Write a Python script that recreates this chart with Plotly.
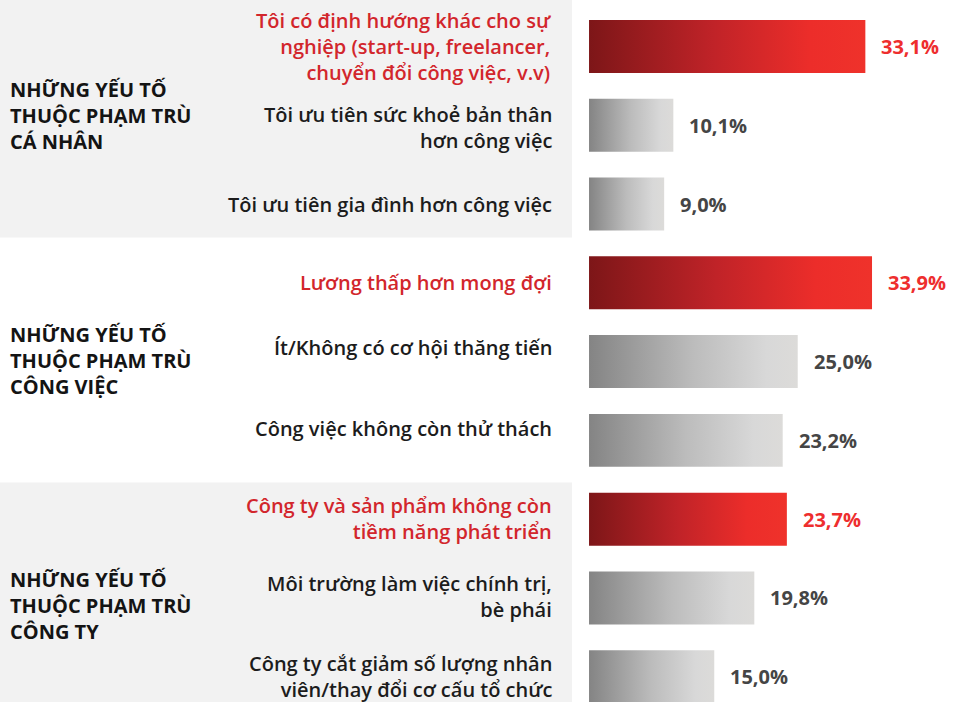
import plotly.graph_objects as go

# ---------------- data ----------------
categories = [
    "Tôi có định hướng khác cho sự<br>nghiệp (start-up, freelancer,<br>chuyển đổi công việc, v.v)",
    "Tôi ưu tiên sức khoẻ bản thân<br>hơn công việc",
    "Tôi ưu tiên gia đình hơn công việc",
    "Lương thấp hơn mong đợi",
    "Ít/Không có cơ hội thăng tiến",
    "Công việc không còn thử thách",
    "Công ty và sản phẩm không còn<br>tiềm năng phát triển",
    "Môi trường làm việc chính trị,<br>bè phái",
    "Công ty cắt giảm số lượng nhân<br>viên/thay đổi cơ cấu tổ chức",
]
values = [33.1, 10.1, 9.0, 33.9, 25.0, 23.2, 23.7, 19.8, 15.0]
highlight = [True, False, False, True, False, False, True, False, False]
groups = [
    "NHỮNG YẾU TỐ<br>THUỘC PHẠM TRÙ<br>CÁ NHÂN",
    "NHỮNG YẾU TỐ<br>THUỘC PHẠM TRÙ<br>CÔNG VIỆC",
    "NHỮNG YẾU TỐ<br>THUỘC PHẠM TRÙ<br>CÔNG TY",
]
group_rows = [1, 4, 7]

# ---------------- style ----------------
FONT = "Open Sans"
RED_SCALE = [[0, "#7d1618"], [0.45, "#c02328"], [0.8, "#ec2d2a"], [1, "#ef322b"]]
GRAY_SCALE = [[0, "#848484"], [0.5, "#bcbcbc"], [0.85, "#d8d8d8"], [1, "#dcdbd9"]]
HALF = 0.336
label_yshift = [0, -2, 0, 0, 14, 12, 1, 1, 0]
group_yshift = [10, 1, -8]

fig = go.Figure()

for i, (v, hl) in enumerate(zip(values, highlight)):
    fig.add_trace(go.Scatter(
        x=[0, v, v, 0, 0],
        y=[i - HALF, i - HALF, i + HALF, i + HALF, i - HALF],
        fill="toself",
        mode="lines",
        line=dict(width=0),
        fillgradient=dict(type="horizontal",
                          colorscale=RED_SCALE if hl else GRAY_SCALE,
                          start=0, stop=v),
        hoverinfo="skip",
        showlegend=False,
    ))

annotations = []
for i, (c, v, hl) in enumerate(zip(categories, values, highlight)):
    annotations.append(dict(
        x=0.5805, xref="paper", y=i, yref="y", xanchor="right", yanchor="middle",
        text=c, align="right", showarrow=False, yshift=label_yshift[i],
        font=dict(family=FONT, size=20, weight=600,
                  color="#d2262c" if hl else "#1c1c1c"),
    ))
    annotations.append(dict(
        x=v, xref="x", y=i, yref="y", xanchor="left", yanchor="middle",
        xshift=14, text=f"{v:.1f}".replace(".", ",") + "%", showarrow=False,
        font=dict(family=FONT, size=20, weight="bold",
                  color="#ee2e2e" if hl else "#454545"),
    ))
for g, r, ys in zip(groups, group_rows, group_yshift):
    annotations.append(dict(
        x=8 / 954, xref="paper", y=r, yref="y", xanchor="left", yanchor="middle",
        text=g, align="left", showarrow=False, yshift=ys,
        font=dict(family=FONT, size=20, weight="bold", color="#141414"),
    ))

shapes = [
    dict(type="rect", xref="paper", x0=0, x1=572 / 954, yref="y",
         y0=-0.589, y1=2.425, fillcolor="#f2f2f2", line=dict(width=0), layer="below"),
    dict(type="rect", xref="paper", x0=0, x1=572 / 954, yref="y",
         y0=5.534, y1=8.33, fillcolor="#f2f2f2", line=dict(width=0), layer="below"),
]

fig.update_layout(
    width=954, height=702,
    margin=dict(l=0, r=0, t=0, b=0),
    paper_bgcolor="white", plot_bgcolor="white",
    xaxis=dict(range=[-70.56, 43.72], visible=False, fixedrange=True),
    yaxis=dict(range=[8.32, -0.589], visible=False, fixedrange=True),
    annotations=annotations,
    shapes=shapes,
    showlegend=False,
)

fig.write_html("out.html", config={"displayModeBar": False},
               post_script="document.body.style.margin='0';")
